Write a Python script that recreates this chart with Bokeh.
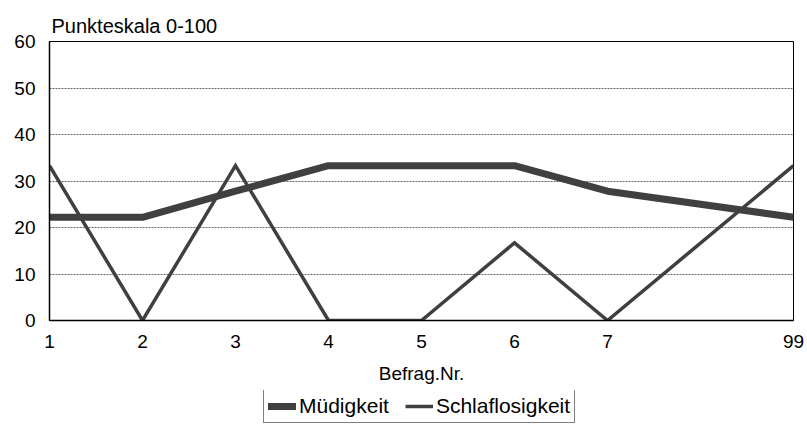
from bokeh.plotting import figure
from bokeh.layouts import column
from bokeh.models import Legend, LegendItem, Range1d, FixedTicker
from bokeh.embed import file_html
from bokeh.resources import INLINE

# Survey numbers (Befragung) and scores on a 0-100 scale
befragung = [1, 2, 3, 4, 5, 6, 7, 99]
muedigkeit = [22.2, 22.2, 27.8, 33.3, 33.3, 33.3, 27.8, 22.2]
schlaflosigkeit = [33.3, 0, 33.3, 0, 0, 16.7, 0, 33.3]
y_ticks = [0, 10, 20, 30, 40, 50, 60]
series_names = ["Müdigkeit", "Schlaflosigkeit"]

# Survey 99 (final survey) sits two steps after survey 7 on a compressed axis
xpos = [n if n <= 7 else 9 for n in befragung]

FONT = "Liberation Sans"
DARK = "#404040"
STYLES = [dict(line_color=DARK, line_width=7, line_cap="round", line_join="round"),
          dict(line_color=DARK, line_width=3.5, line_join="miter")]

p = figure(width=807, height=390, output_backend="svg", toolbar_location=None,
           x_range=Range1d(1, 9), y_range=Range1d(0, 60),
           min_border_left=49, min_border_right=14, min_border_top=41,
           min_border_bottom=70)

p.title.text = "Punkteskala 0-100"
p.title.text_font = FONT
p.title.text_font_size = "20px"
p.title.text_font_style = "normal"
p.title.text_color = "black"
p.title.offset = 2

p.line(xpos, muedigkeit, **STYLES[0])
p.line(xpos, schlaflosigkeit, **STYLES[1])

p.outline_line_color = "black"
p.outline_line_width = 1
p.xgrid.grid_line_color = None
p.ygrid.grid_line_color = "black"
p.ygrid.grid_line_dash = "2 1"
p.ygrid.grid_line_width = 0.6

p.xaxis.ticker = FixedTicker(ticks=xpos)
p.xaxis.major_label_overrides = {x: str(n) for x, n in zip(xpos, befragung)}
p.yaxis.ticker = FixedTicker(ticks=y_ticks)

for ax in (p.xaxis[0], p.yaxis[0]):
    ax.axis_line_color = "black"
    ax.axis_line_width = 1.5
    ax.major_tick_line_color = None
    ax.minor_tick_line_color = None
    ax.major_label_text_font = FONT
    ax.major_label_text_font_size = "19px"
    ax.major_label_text_color = "black"
    ax.major_label_standoff = 8

p.xaxis.axis_label = "Befrag.Nr."
p.xaxis.axis_label_text_font = FONT
p.xaxis.axis_label_text_font_size = "19px"
p.xaxis.axis_label_text_font_style = "normal"
p.xaxis.axis_label_text_color = "black"
p.xaxis.axis_label_standoff = 12

# Legend strip underneath the chart; its key lines lie outside the visible
# range so only the legend entries show
leg = figure(width=807, height=35, output_backend="svg", toolbar_location=None,
             x_range=Range1d(0, 1), y_range=Range1d(0, 1),
             min_border=0, outline_line_color=None)
leg.axis.visible = False
leg.grid.visible = False
keys = [leg.line([-3, -2], [0, 0], **s) for s in STYLES]

legend = Legend(items=[LegendItem(label=n, renderers=[r]) for n, r in zip(series_names, keys)],
                orientation="horizontal", location=(214, 2),
                label_text_font=FONT, label_text_font_size="21px",
                label_text_color="black",
                border_line_color="black", border_line_width=1,
                padding=4, spacing=16, margin=0,
                glyph_width=28, label_standoff=3)
leg.add_layout(legend, "center")

layout = column(p, leg, spacing=0)
open("out.html", "w").write(file_html(layout, INLINE))
